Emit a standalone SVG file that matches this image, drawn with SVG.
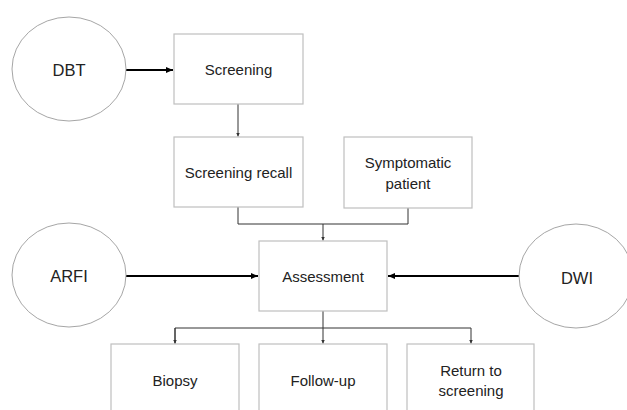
<svg xmlns="http://www.w3.org/2000/svg" width="627" height="410" viewBox="0 0 627 410">
<defs>
<marker id="ah" markerWidth="8" markerHeight="8" refX="7" refY="4" orient="auto" markerUnits="userSpaceOnUse"><path d="M0,1 L7,4 L0,7 Z" fill="#000"/></marker>
<marker id="as" markerWidth="5" markerHeight="5" refX="4" refY="2.5" orient="auto" markerUnits="userSpaceOnUse"><path d="M0,0.5 L4,2.5 L0,4.5 Z" fill="#333"/></marker>
<style>
.box{fill:#fff;stroke:#bfbfbf;stroke-width:1.2}
.circ{fill:#fff;stroke:#a6a6a6;stroke-width:1}
.t{font-family:"Liberation Sans",Arial,sans-serif;font-size:15px;fill:#222;text-anchor:middle}
.ct{font-family:"Liberation Sans",Arial,sans-serif;font-size:16.5px;fill:#222;text-anchor:middle}
.thin{fill:none;stroke:#333;stroke-width:1}
.thick{fill:none;stroke:#000;stroke-width:2.2}
</style>
</defs>
<rect width="627" height="410" fill="#fff"/>
<g id="connectors">
<path class="thick" d="M126,70 L173,70" marker-end="url(#ah)"/>
<path class="thin" d="M238,104 L238,136.5" marker-end="url(#as)"/>
<path class="thin" d="M238,207 L238,224 L408,224 L408,208"/>
<path class="thin" d="M323,224 L323,240.5" marker-end="url(#as)"/>
<path class="thick" d="M126,276 L258,276" marker-end="url(#ah)"/>
<path class="thick" d="M519,276 L388,276" marker-end="url(#ah)"/>
<path class="thin" d="M323,311 L323,343.5" marker-end="url(#as)"/>
<path class="thin" d="M175,343.5 L175,328 L471,328 L471,343.5" marker-end="url(#as)"/>
<path class="thin" d="M175,328 L175,343.5" marker-end="url(#as)"/>
</g>
<g id="dbt"><ellipse class="circ" cx="69" cy="69" rx="57" ry="52"/><text class="ct" x="69" y="76">DBT</text></g>
<g id="screening"><rect class="box" x="174" y="34" width="129" height="70"/><text class="t" x="238.5" y="75">Screening</text></g>
<g id="screening-recall"><rect class="box" x="174" y="137" width="129" height="70"/><text class="t" x="238.5" y="178">Screening recall</text></g>
<g id="symptomatic"><rect class="box" x="344" y="137" width="128" height="71"/><text class="t" x="408" y="168">Symptomatic</text><text class="t" x="408" y="189">patient</text></g>
<g id="arfi"><ellipse class="circ" cx="69" cy="275" rx="57" ry="52"/><text class="ct" x="69" y="282">ARFI</text></g>
<g id="assessment"><rect class="box" x="259" y="241" width="128" height="70"/><text class="t" x="323" y="282">Assessment</text></g>
<g id="dwi"><ellipse class="circ" cx="576" cy="276" rx="57" ry="52"/><text class="ct" x="577" y="284">DWI</text></g>
<g id="biopsy"><rect class="box" x="111" y="344" width="128" height="72"/><text class="t" x="175" y="386">Biopsy</text></g>
<g id="follow-up"><rect class="box" x="259" y="344" width="128" height="72"/><text class="t" x="323" y="386">Follow-up</text></g>
<g id="return"><rect class="box" x="407" y="344" width="127" height="72"/><text class="t" x="471" y="376">Return to</text><text class="t" x="471" y="396">screening</text></g>
</svg>
